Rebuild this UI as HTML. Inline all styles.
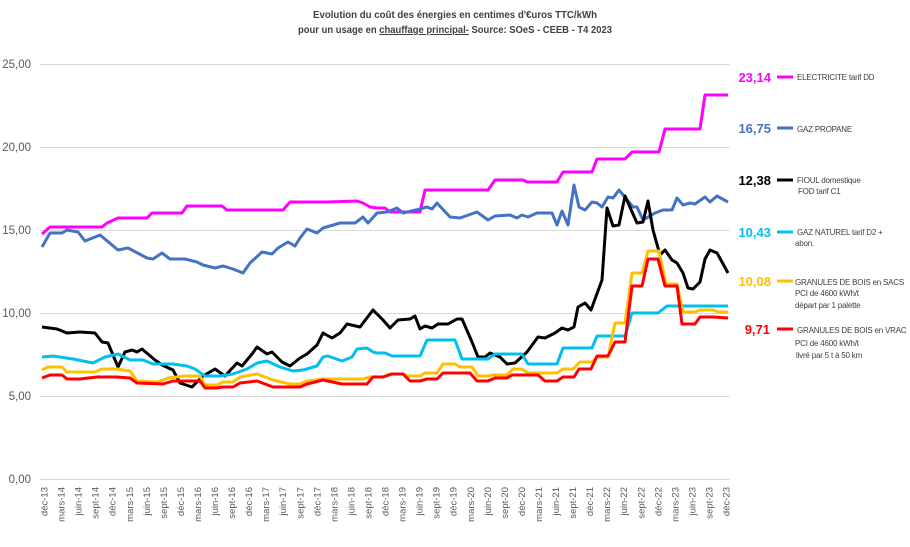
<!DOCTYPE html>
<html><head><meta charset="utf-8"><style>
html,body{margin:0;padding:0;background:#fff;}
svg{display:block;font-family:"Liberation Sans",sans-serif;}
</style></head><body>
<svg width="910" height="547" viewBox="0 0 910 547" xmlns="http://www.w3.org/2000/svg">
<rect width="910" height="547" fill="#fff"/>
<g font-size="10" font-weight="bold" fill="#404040" text-anchor="middle">
<text x="455" y="18" textLength="284" lengthAdjust="spacingAndGlyphs">Evolution du coût des énergies en centimes d'€uros TTC/kWh</text>
<text x="455" y="33" textLength="314" lengthAdjust="spacingAndGlyphs">pour un usage en <tspan text-decoration="underline">chauffage principal-</tspan> Source: SOeS - CEEB - T4 2023</text>
</g>
<g stroke="#d9d9d9" stroke-width="1">
<line x1="40" x2="730" y1="64.5" y2="64.5"/><line x1="40" x2="730" y1="147.5" y2="147.5"/>
<line x1="40" x2="730" y1="230.5" y2="230.5"/><line x1="40" x2="730" y1="313.5" y2="313.5"/>
<line x1="40" x2="730" y1="396.5" y2="396.5"/><line x1="40" x2="730" y1="479.5" y2="479.5"/>
</g>
<g font-size="11.5" fill="#595959" text-anchor="end">
<text x="31" y="68">25,00</text><text x="31" y="151">20,00</text><text x="31" y="234">15,00</text>
<text x="31" y="317">10,00</text><text x="31" y="400">5,00</text><text x="31" y="483">0,00</text>
</g>
<g font-size="9.5" fill="#595959" text-anchor="end">
<text transform="translate(47.5,487) rotate(-90)">déc-13</text>
<text transform="translate(64.6,487) rotate(-90)">mars-14</text>
<text transform="translate(81.6,487) rotate(-90)">juin-14</text>
<text transform="translate(98.7,487) rotate(-90)">sept-14</text>
<text transform="translate(115.7,487) rotate(-90)">déc-14</text>
<text transform="translate(132.8,487) rotate(-90)">mars-15</text>
<text transform="translate(149.8,487) rotate(-90)">juin-15</text>
<text transform="translate(166.9,487) rotate(-90)">sept-15</text>
<text transform="translate(183.9,487) rotate(-90)">déc-15</text>
<text transform="translate(201.0,487) rotate(-90)">mars-16</text>
<text transform="translate(218.0,487) rotate(-90)">juin-16</text>
<text transform="translate(235.1,487) rotate(-90)">sept-16</text>
<text transform="translate(252.1,487) rotate(-90)">déc-16</text>
<text transform="translate(269.2,487) rotate(-90)">mars-17</text>
<text transform="translate(286.2,487) rotate(-90)">juin-17</text>
<text transform="translate(303.3,487) rotate(-90)">sept-17</text>
<text transform="translate(320.3,487) rotate(-90)">déc-17</text>
<text transform="translate(337.4,487) rotate(-90)">mars-18</text>
<text transform="translate(354.4,487) rotate(-90)">juin-18</text>
<text transform="translate(371.5,487) rotate(-90)">sept-18</text>
<text transform="translate(388.5,487) rotate(-90)">déc-18</text>
<text transform="translate(405.6,487) rotate(-90)">mars-19</text>
<text transform="translate(422.6,487) rotate(-90)">juin-19</text>
<text transform="translate(439.7,487) rotate(-90)">sept-19</text>
<text transform="translate(456.7,487) rotate(-90)">déc-19</text>
<text transform="translate(473.8,487) rotate(-90)">mars-20</text>
<text transform="translate(490.8,487) rotate(-90)">juin-20</text>
<text transform="translate(507.9,487) rotate(-90)">sept-20</text>
<text transform="translate(524.9,487) rotate(-90)">déc-20</text>
<text transform="translate(542.0,487) rotate(-90)">mars-21</text>
<text transform="translate(559.0,487) rotate(-90)">juin-21</text>
<text transform="translate(576.1,487) rotate(-90)">sept-21</text>
<text transform="translate(593.1,487) rotate(-90)">déc-21</text>
<text transform="translate(610.2,487) rotate(-90)">mars-22</text>
<text transform="translate(627.2,487) rotate(-90)">juin-22</text>
<text transform="translate(644.3,487) rotate(-90)">sept-22</text>
<text transform="translate(661.3,487) rotate(-90)">déc-22</text>
<text transform="translate(678.4,487) rotate(-90)">mars-23</text>
<text transform="translate(695.4,487) rotate(-90)">juin-23</text>
<text transform="translate(712.5,487) rotate(-90)">sept-23</text>
<text transform="translate(729.5,487) rotate(-90)">déc-23</text>
</g>
<g fill="none" stroke-width="3" stroke-linejoin="round">
<polyline stroke="#FF00FF" points="42,234 50,227 102,227 107,223 118,218 147,218 152,213 182,213 187,206 222,206 227,210 283,210 290,202 327,202 357,201 363,203 370,207 377,208 385,208 390,212 420,212 425,190 488,190 495,180 523,180 527,182 557,182 563,172 592,172 597,159 625,159 632,152 659,152 665,129 700,129 705,95 728,95"/>
<polyline stroke="#4472C4" points="42,247 50,233 62,233 67,230 78,232 85,241 100,235 118,250 128,248 147,258 153,259 162,253 170,259 185,259 197,262 203,265 215,268 223,266 233,269 243,273 250,263 262,252 272,254 278,248 288,242 295,246 300,238 307,229 317,233 323,228 340,223 355,223 363,217 368,223 377,213 387,212 397,208 403,213 420,209 427,207 432,209 437,203 450,217 460,218 477,212 488,220 495,216 510,215 517,218 522,215 528,217 537,213 552,213 557,225 562,211 568,225 574,185 579,207 585,210 592,202 597,203 602,207 608,197 613,198 619,190 633,207 637,207 643,220 655,213 663,210 672,210 677,198 683,205 690,203 695,204 705,197 710,202 717,196 728,202"/>
<polyline stroke="#000000" points="42,327 57,329 67,333 80,332 95,333 102,342 108,343 118,367 125,352 132,350 137,352 142,349 155,360 162,365 173,370 180,383 192,387 203,376 215,369 225,376 237,363 242,366 252,354 257,347 267,354 272,352 282,362 290,366 300,358 307,354 317,345 323,333 332,338 340,333 347,324 360,327 373,310 383,320 390,328 398,320 410,319 415,316 420,329 425,326 432,328 438,324 448,324 457,319 462,319 472,342 478,357 485,357 490,353 500,357 507,364 515,363 527,352 538,337 545,338 555,333 562,328 568,330 574,327 578,307 585,303 591,310 602,280 607,208 613,226 619,225 625,196 637,223 643,222 648,201 653,230 660,255 665,250 672,260 677,263 683,273 688,288 693,289 700,282 705,259 710,250 717,253 722,262 728,273"/>
<polyline stroke="#00C0F0" points="42,357 53,356 73,359 93,363 105,357 118,354 130,360 143,360 153,364 173,364 187,366 195,369 205,376 220,376 233,374 247,369 257,363 267,361 280,367 293,371 303,370 317,366 323,357 328,356 342,361 352,357 357,349 367,348 373,352 377,353 385,353 392,356 420,356 427,340 455,340 462,359 488,359 495,354 522,354 528,364 557,364 563,348 592,348 597,336 625,336 632,313 658,313 667,306 728,306"/>
<polyline stroke="#FFC000" points="42,370 48,367 62,367 67,372 95,372 102,369 117,369 130,371 137,381 158,382 168,378 185,376 200,376 205,385 217,385 223,382 233,382 240,377 257,374 273,380 290,384 300,384 307,381 323,379 363,379 370,377 383,377 390,374 403,374 408,376 420,376 425,373 437,373 443,364 455,364 460,367 472,367 478,376 488,376 493,375 507,375 513,369 522,369 528,373 557,373 563,369 573,369 580,362 592,362 597,357 608,357 615,323 625,323 632,273 642,273 648,251 659,251 666,284 677,284 683,312 695,312 700,310 713,310 718,312 728,312"/>
<polyline stroke="#FF0000" points="42,378 50,375 62,375 67,379 80,379 97,377 117,377 130,378 137,383 163,384 173,381 200,381 205,388 217,388 222,387 233,387 240,383 257,381 273,387 300,387 307,384 323,380 342,384 367,384 373,377 383,377 392,374 403,374 410,381 420,381 427,379 437,379 443,373 470,373 477,381 488,381 495,378 507,378 512,375 538,375 545,381 557,381 563,377 574,377 579,369 591,369 597,356 608,356 615,342 625,342 632,286 642,286 648,259 658,259 665,286 677,286 682,324 695,324 700,317 713,317 728,318"/>
</g>
<g stroke-width="3">
<line x1="777" x2="793" y1="77" y2="77" stroke="#FF00FF"/>
<line x1="777" x2="793" y1="128" y2="128" stroke="#4472C4"/>
<line x1="777" x2="793" y1="180" y2="180" stroke="#000"/>
<line x1="777" x2="793" y1="232" y2="232" stroke="#00C0F0"/>
<line x1="777" x2="793" y1="281" y2="281" stroke="#FFC000"/>
<line x1="777" x2="793" y1="329" y2="329" stroke="#FF0000"/>
</g>
<g font-size="13" font-weight="bold" text-anchor="end">
<text x="771" y="82" fill="#FF00FF">23,14</text>
<text x="771" y="133" fill="#4472C4">16,75</text>
<text x="771" y="185" fill="#000">12,38</text>
<text x="771" y="237" fill="#00C0F0">10,43</text>
<text x="771" y="286" fill="#FFC000">10,08</text>
<text x="770" y="334" fill="#FF0000">9,71</text>
</g>
<g font-size="8" fill="#404040" letter-spacing="-0.2">
<text x="797" y="80">ELECTRICITE tarif DD</text>
<text x="797" y="132">GAZ PROPANE</text>
<text x="797" y="183">FIOUL domestique</text><text x="798" y="194">FOD tarif C1</text>
<text x="797" y="235">GAZ NATUREL tarif D2 +</text><text x="795" y="246">abon.</text>
<text x="795" y="285">GRANULES DE BOIS en SACS</text><text x="795" y="296">PCI de 4600 kWh/t</text><text x="795" y="308">départ par 1 palette</text>
<text x="797" y="333">GRANULES DE BOIS en VRAC</text><text x="795" y="346">PCI de 4600 kWh/t</text><text x="796" y="358">livré par 5 t à 50 km</text>
</g>
</svg>
</body></html>
